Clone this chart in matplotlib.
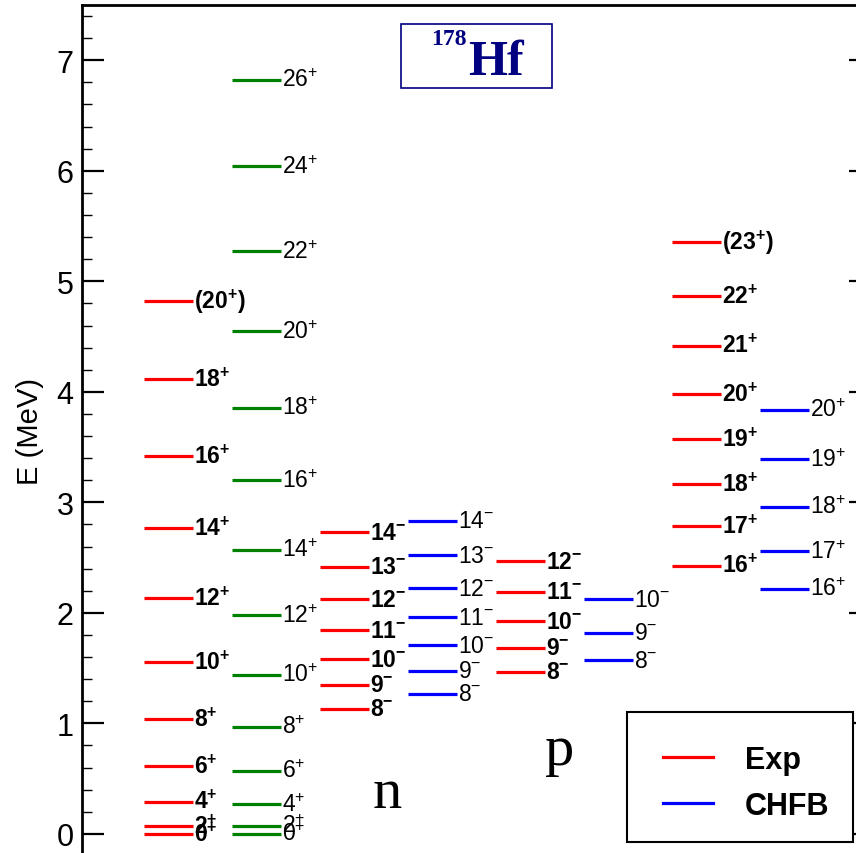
import matplotlib
matplotlib.use("Agg")
import matplotlib.pyplot as plt
from matplotlib.patches import Rectangle
from matplotlib.lines import Line2D
from matplotlib.ticker import MultipleLocator

plt.rcParams['font.family'] = ['Liberation Sans', 'DejaVu Sans']
plt.rcParams['mathtext.fontset'] = 'custom'
plt.rcParams['mathtext.rm'] = 'Liberation Sans'
plt.rcParams['mathtext.bf'] = 'Liberation Sans:bold'

# ---- level data (energies in MeV) ----
gsb_exp_labels = ['0', '2', '4', '6', '8', '10', '12', '14', '16', '18', '(20)']
gsb_exp_E = [0.0, 0.072, 0.292, 0.613, 1.038, 1.557, 2.133, 2.767, 3.418, 4.118, 4.821]

gsb_th_labels = ['0', '2', '4', '6', '8', '10', '12', '14', '16', '18', '20', '22', '24', '26']
gsb_th_E = [0.0, 0.072, 0.269, 0.570, 0.971, 1.442, 1.979, 2.570, 3.201, 3.858, 4.549,
            5.273, 6.042, 6.824]

n_exp_labels = ['8', '9', '10', '11', '12', '13', '14']
n_exp_E = [1.131, 1.348, 1.578, 1.843, 2.124, 2.416, 2.730]

n_th_labels = ['8', '9', '10', '11', '12', '13', '14']
n_th_E = [1.267, 1.475, 1.708, 1.961, 2.223, 2.522, 2.833]

p_exp_labels = ['8', '9', '10', '11', '12']
p_exp_E = [1.469, 1.683, 1.925, 2.190, 2.468]

p_th_labels = ['8', '9', '10']
p_th_E = [1.569, 1.822, 2.124]

hi_exp_labels = ['16', '17', '18', '19', '20', '21', '22', '(23)']
hi_exp_E = [2.428, 2.785, 3.167, 3.569, 3.982, 4.419, 4.866, 5.355]

hi_th_labels = ['16', '17', '18', '19', '20']
hi_th_E = [2.217, 2.558, 2.959, 3.391, 3.837]

# (labels, energies, parity, colour, bold)
bands = [
    (gsb_exp_labels, gsb_exp_E, '+', '#ff0000', True),
    (gsb_th_labels, gsb_th_E, '+', '#008000', False),
    (n_exp_labels, n_exp_E, '-', '#ff0000', True),
    (n_th_labels, n_th_E, '-', '#0000ff', False),
    (p_exp_labels, p_exp_E, '-', '#ff0000', True),
    (p_th_labels, p_th_E, '-', '#0000ff', False),
    (hi_exp_labels, hi_exp_E, '+', '#ff0000', True),
    (hi_th_labels, hi_th_E, '+', '#0000ff', False),
]


def level_text(lab, parity, bold):
    font = r'\mathbf' if bold else r'\mathrm'
    if lab.startswith('('):
        core = lab[1:-1]
        return r'$' + font + '{(' + core + '^{' + parity + '})}$'
    return r'$' + font + '{' + lab + '^{' + parity + '}}$'


fig = plt.figure(figsize=(8.56, 8.54), dpi=100)
ax = fig.add_axes([82 / 856, -3 / 854, 789 / 856, 851 / 854])

width = 0.56
x0 = 0.705
for i, (labs, energies, parity, col, bold) in enumerate(bands):
    xl = x0 + i
    for lab, e in zip(labs, energies):
        ax.plot([xl, xl + width], [e, e], color=col, lw=2.3, solid_capstyle='butt')
        ax.text(xl + width + 0.005, e, level_text(lab, parity, bold),
                fontsize=16.5, ha='left', va='center', color='black')

ax.set_xlim(0, 789 / 88)
ax.set_ylim(-0.2, 7.5)
ax.set_xticks([])
ax.yaxis.set_major_locator(MultipleLocator(1))
ax.yaxis.set_minor_locator(MultipleLocator(0.2))
ax.tick_params(axis='y', which='both', direction='in', right=True, left=True)
ax.tick_params(axis='y', which='major', length=16, width=1.6, labelsize=22, pad=6)
ax.tick_params(axis='y', which='minor', length=7.5, width=1.0)
for s in ax.spines.values():
    s.set_linewidth(2.0)
ax.set_ylabel('E (MeV)', fontsize=21, labelpad=9)

# band annotations
ax.text(3.30, 0.244, 'n', fontsize=42, family='Liberation Serif', ha='left', va='baseline')
ax.text(5.26, 0.633, 'p', fontsize=42, family='Liberation Serif', ha='left', va='baseline')

# nucleus label
fig.patches.append(Rectangle((401 / 856, (854 - 89) / 854), 151 / 856, 64 / 854,
                             transform=fig.transFigure, fill=False,
                             edgecolor='#000080', lw=1.2))
fig.text(468 / 856, (854 - 75) / 854, 'Hf', fontsize=36, family='Liberation Serif',
         weight='bold', color='#000080', ha='left', va='baseline')
fig.text(467 / 856, (854 - 45) / 854, '178', fontsize=17, family='Liberation Serif',
         weight='bold', color='#000080', ha='right', va='baseline')

# legend: entries without frame, box drawn separately
fig.patches.append(Rectangle((627 / 856, (854 - 843) / 854), 226 / 856, 130 / 854,
                             transform=fig.transFigure, facecolor='white',
                             edgecolor='black', lw=1.5, zorder=5))
handles = [Line2D([], [], color='#ff0000', lw=2.3),
           Line2D([], [], color='#0000ff', lw=2.3)]
leg = fig.legend(handles, ['Exp', 'CHFB'], loc='upper left',
                 bbox_to_anchor=(663 / 856, 1 - 746 / 854), borderaxespad=0,
                 prop={'weight': 'bold', 'size': 22}, handlelength=1.63,
                 handletextpad=1.05, borderpad=0.0, labelspacing=0.52,
                 frameon=False)
leg.set_zorder(6)

fig.savefig('out.png', dpi=100)
